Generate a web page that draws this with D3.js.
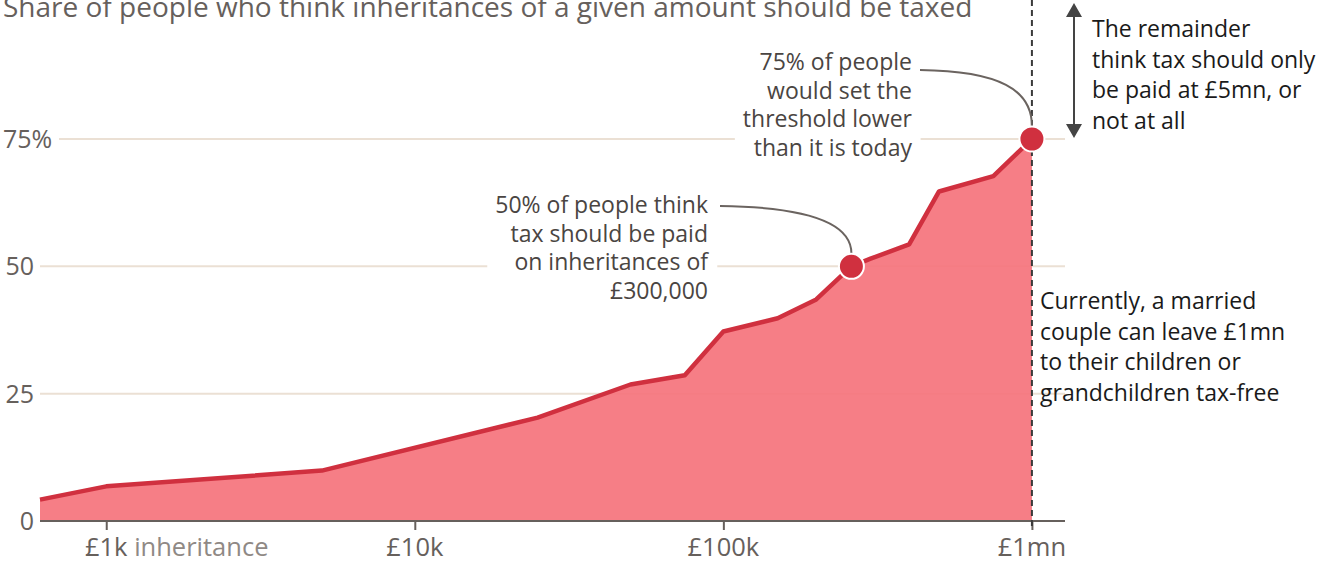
<!DOCTYPE html>
<html>
<head>
<meta charset="utf-8">
<script src="https://cdn.jsdelivr.net/npm/d3@7"></script>
<style>
  html, body { margin: 0; padding: 0; background: #fff; }
  svg { display: block; font-family: "Open Sans", sans-serif; }
</style>
</head>
<body>
<svg id="chart" width="1326" height="567"></svg>
<script>
// data
const amounts = [610, 1000, 5000, 25000, 50000, 75000, 100000, 150000, 200000,
  260000, 300000, 400000, 500000, 750000, 1000000];
const shares = [4.2, 6.8, 9.9, 20.3, 26.8, 28.6, 37.2, 39.8, 43.5,
  50, 51.5, 54.3, 64.7, 67.7, 75];
const highlighted = [260000, 1000000];
const xDomain = [610, 1280000];
const xTicks = [1000, 10000, 100000, 1000000];
const xTickLabels = ["£1k", "£10k", "£100k", "£1mn"];
const yTicks = [0, 25, 50, 75];
const yTickLabels = ["0", "25", "50", "75%"];
const title = "Share of people who think inheritances of a given amount should be taxed";
const note50 = ["50% of people think", "tax should be paid", "on inheritances of", "£300,000"];
const note75 = ["75% of people", "would set the", "threshold lower", "than it is today"];
const noteRemainder = ["The remainder", "think tax should only", "be paid at £5mn, or", "not at all"];
const noteCurrent = ["Currently, a married", "couple can leave £1mn", "to their children or", "grandchildren tax-free"];

const svg = d3.select("#chart");
const margin = {left: 40, right: 1065, top: 139, bottom: 521};

const x = d3.scaleLog().domain(xDomain).range([margin.left, margin.right]);
const y = d3.scaleLinear().domain([0, 75]).range([margin.bottom, margin.top]);

const data = amounts.map((a, i) => ({at: a, value: shares[i]}));

const grey = "#66605c";
const textDark = "#4a4542";

// title (cut off at the top in the original)
svg.append("text")
  .attr("x", 3).attr("y", 17)
  .attr("font-size", 28).attr("fill", grey)
  .text(title);

// gridlines
svg.append("g").selectAll("line")
  .data(yTicks.filter(d => d > 0))
  .join("line")
  .attr("x1", d => d === 75 ? 59 : margin.left)
  .attr("x2", margin.right)
  .attr("y1", d => y(d)).attr("y2", d => y(d))
  .attr("stroke", "#ebe0d4").attr("stroke-width", 2);

// y labels: numbers end at x=34, the top one (with %) starts at the edge
svg.append("g").selectAll("text")
  .data(yTicks)
  .join("text")
  .attr("x", d => d === 75 ? 3 : 34)
  .attr("y", d => y(d))
  .attr("dy", "0.36em")
  .attr("text-anchor", d => d === 75 ? "start" : "end")
  .attr("font-size", 25)
  .attr("fill", grey)
  .text((d, i) => yTickLabels[i]);

// area + line
const area = d3.area()
  .x(d => x(d.at)).y0(y(0)).y1(d => y(d.value));
const line = d3.line()
  .x(d => x(d.at)).y(d => y(d.value));

svg.append("path")
  .datum(data)
  .attr("d", area)
  .attr("fill", "#f5747d")
  .attr("fill-opacity", 0.93);

svg.append("path")
  .datum(data)
  .attr("d", line)
  .attr("fill", "none")
  .attr("stroke", "#d0303f")
  .attr("stroke-width", 4.5)
  .attr("stroke-linejoin", "round");

// x axis
const xAxis = svg.append("g")
  .attr("transform", `translate(0,${y(0)})`)
  .call(d3.axisBottom(x).tickValues(xTicks).tickSize(9).tickFormat(() => ""));
xAxis.select(".domain")
  .attr("d", `M${margin.left},0H${margin.right}`)
  .attr("stroke", grey).attr("stroke-width", 2);
xAxis.selectAll(".tick line").attr("stroke", grey).attr("stroke-width", 2);

const xl = svg.append("g").selectAll("text")
  .data(xTicks)
  .join("text")
  .attr("y", 556)
  .attr("font-size", 25.5)
  .attr("fill", grey)
  .text((d, i) => xTickLabels[i]);
xl.each(function(d) {
  const w = this.getComputedTextLength();
  d3.select(this).attr("x", x(d) - w / 2);
});
// "inheritance" after the first tick label
xl.filter((d, i) => i === 0)
  .append("tspan").attr("fill", "#8f8985").text(" inheritance");

// dashed line at £1mn
svg.append("line")
  .attr("x1", x(1e6)).attr("x2", x(1e6))
  .attr("y1", 0).attr("y2", y(0) + 9)
  .attr("stroke", "#3a3a3a").attr("stroke-width", 2)
  .attr("stroke-dasharray", "6,4");

// annotation blocks
function note(lines, xr, yb, lh, color, anchor) {
  const g = svg.append("g");
  g.selectAll("text")
    .data(lines)
    .join("text")
    .attr("x", xr)
    .attr("y", (d, i) => yb + i * lh)
    .attr("text-anchor", anchor)
    .attr("font-size", 23)
    .attr("fill", color)
    .text(d => d);
  return g;
}
// white box behind the text breaks the gridline
function whiteBox(g, pad) {
  const b = g.node().getBBox();
  g.insert("rect", "text")
    .attr("x", b.x - pad).attr("y", b.y)
    .attr("width", b.width + pad * 2).attr("height", b.height)
    .attr("fill", "#fff");
}

const n50 = note(note50, 708, 213, 28.5, textDark, "end");
whiteBox(n50, 8);
const n75 = note(note75, 912, 70, 28.5, textDark, "end");
whiteBox(n75, 8);
note(noteRemainder, 1092, 37, 30.5, "#1a1a1a", "start");
note(noteCurrent, 1040, 309, 30.5, "#1a1a1a", "start");

// connectors
const p50 = data.find(d => d.at === highlighted[0]);
const p75 = data.find(d => d.at === highlighted[1]);
svg.append("path")
  .attr("d", `M720,206 C800,207 ${x(p50.at)},220 ${x(p50.at)},${y(p50.value) - 13}`)
  .attr("fill", "none").attr("stroke", "#6b6460").attr("stroke-width", 2);
svg.append("path")
  .attr("d", `M920,70 C1000,71 ${x(p75.at)},90 ${x(p75.at)},${y(p75.value) - 13}`)
  .attr("fill", "none").attr("stroke", "#6b6460").attr("stroke-width", 2);

// highlighted dots
svg.append("g").selectAll("circle")
  .data(data.filter(d => highlighted.includes(d.at)))
  .join("circle")
  .attr("cx", d => x(d.at)).attr("cy", d => y(d.value))
  .attr("r", 12.5)
  .attr("fill", "#d0303f")
  .attr("stroke", "#fff").attr("stroke-width", 2);

// double-headed arrow for the remainder
const ax = 1074;
svg.append("line")
  .attr("x1", ax).attr("x2", ax).attr("y1", 10).attr("y2", 130)
  .attr("stroke", "#444").attr("stroke-width", 2);
svg.append("path")
  .attr("d", `M${ax - 8},17 L${ax},3 L${ax + 8},17 Z M${ax - 8},124 L${ax},138 L${ax + 8},124 Z`)
  .attr("fill", "#444");
</script>
</body>
</html>
